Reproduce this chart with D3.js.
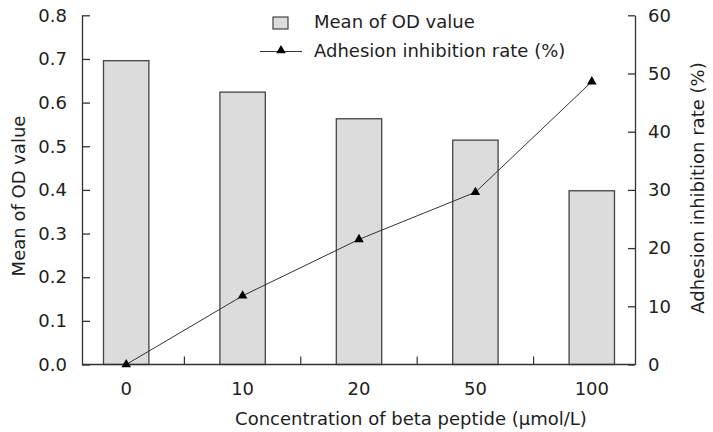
<!DOCTYPE html>
<html>
<head>
<meta charset="utf-8">
<script src="https://cdn.jsdelivr.net/npm/d3@7"></script>
<style>
    body { margin: 0; background: #fff; }
    text { font-family: "DejaVu Sans", Verdana, sans-serif; fill: #1e1e1e; }
</style>
</head>
<body>
<svg width="713" height="432"></svg>
<script>
var concentrations = ["0", "10", "20", "50", "100"];
var odMeans = [0.696, 0.624, 0.563, 0.514, 0.398];
var inhibitionRates = [0, 11.8, 21.5, 29.6, 48.6];
var odTicks = [0, 0.1, 0.2, 0.3, 0.4, 0.5, 0.6, 0.7, 0.8];
var rateTicks = [0, 10, 20, 30, 40, 50, 60];

var svg = d3.select("svg");
var fontSize = 18;

// scales
var x = d3.scaleBand().domain(concentrations).range([68, 650]);
var yL = d3.scaleLinear().domain([0, 0.8]).range([364.5, 15.3]);
var yR = d3.scaleLinear().domain([0, 60]).range([364.5, 15.3]);
var barW = x.bandwidth() * 0.39;

// bars
svg.append("g")
    .selectAll("rect")
    .data(odMeans)
    .enter()
    .append("rect")
    .attr("x", function(d, i) { return x(concentrations[i]) + x.bandwidth() / 2 - barW / 2; })
    .attr("y", function(d) { return yL(d); })
    .attr("width", barW)
    .attr("height", function(d) { return yL(0) - yL(d); })
    .attr("fill", "#dcdcdc")
    .attr("stroke", "#444")
    .attr("stroke-width", 1.3);

// left axis
var leftAxis = svg.append("g")
    .attr("transform", "translate(82,0)")
    .call(d3.axisLeft(yL).tickValues(odTicks).tickFormat(d3.format(".1f"))
        .tickSizeInner(-8).tickSizeOuter(0).tickPadding(15));

// right axis
var rightAxis = svg.append("g")
    .attr("transform", "translate(635,0)")
    .call(d3.axisRight(yR).tickValues(rateTicks).tickFormat(d3.format("d"))
        .tickSizeInner(-7).tickSizeOuter(0).tickPadding(13));

// bottom axis (labels only), domain line and boundary ticks drawn by hand
var bottomAxis = svg.append("g")
    .attr("transform", "translate(0,365)")
    .call(d3.axisBottom(x).tickSize(0).tickPadding(17));
bottomAxis.select(".domain").remove();

svg.append("line")
    .attr("x1", 82).attr("x2", 635)
    .attr("y1", yL(0)).attr("y2", yL(0))
    .attr("stroke", "#333").attr("stroke-width", 1.3);

svg.append("g")
    .selectAll("line")
    .data(concentrations.slice(1))
    .enter()
    .append("line")
    .attr("x1", function(d) { return x(d); })
    .attr("x2", function(d) { return x(d); })
    .attr("y1", yL(0))
    .attr("y2", yL(0) - 8)
    .attr("stroke", "#333")
    .attr("stroke-width", 1.2);

[leftAxis, rightAxis, bottomAxis].forEach(function(a) {
    a.selectAll("path, line").attr("stroke", "#333").attr("stroke-width", 1.3);
    a.selectAll("text")
        .attr("font-size", fontSize)
        .attr("font-family", "'DejaVu Sans', Verdana, sans-serif")
        .attr("fill", "#1e1e1e");
});

// line series
var line = d3.line()
    .x(function(d, i) { return x(concentrations[i]) + x.bandwidth() / 2; })
    .y(function(d) { return yR(d); });

svg.append("path")
    .datum(inhibitionRates)
    .attr("d", line)
    .attr("fill", "none")
    .attr("stroke", "#333")
    .attr("stroke-width", 1);

var tri = d3.symbol().type(d3.symbolTriangle).size(40);

svg.append("g")
    .selectAll("path")
    .data(inhibitionRates)
    .enter()
    .append("path")
    .attr("d", tri)
    .attr("transform", function(d, i) {
        return "translate(" + (x(concentrations[i]) + x.bandwidth() / 2) + "," + yR(d) + ")";
    })
    .attr("fill", "#000");

// axis titles
svg.append("text")
    .attr("transform", "translate(25,196) rotate(-90)")
    .attr("text-anchor", "middle")
    .attr("font-size", fontSize)
    .text("Mean of OD value");

svg.append("text")
    .attr("transform", "translate(704,188) rotate(-90)")
    .attr("text-anchor", "middle")
    .attr("font-size", fontSize)
    .text("Adhesion inhibition rate (%)");

svg.append("text")
    .attr("x", 411)
    .attr("y", 425)
    .attr("text-anchor", "middle")
    .attr("font-size", fontSize)
    .text("Concentration of beta peptide (\u03bcmol/L)");

// legend
var legend = svg.append("g");
legend.append("rect")
    .attr("x", 273).attr("y", 17)
    .attr("width", 15).attr("height", 12)
    .attr("fill", "#dcdcdc")
    .attr("stroke", "#444")
    .attr("stroke-width", 1.2);
legend.append("text")
    .attr("x", 314).attr("y", 28)
    .attr("font-size", fontSize)
    .text("Mean of OD value");

legend.append("line")
    .attr("x1", 260).attr("x2", 302)
    .attr("y1", 51.5).attr("y2", 51.5)
    .attr("stroke", "#333").attr("stroke-width", 1);
legend.append("path")
    .attr("d", tri)
    .attr("transform", "translate(281,50.5)")
    .attr("fill", "#000");
legend.append("text")
    .attr("x", 314).attr("y", 57)
    .attr("font-size", fontSize)
    .text("Adhesion inhibition rate (%)");
</script>
</body>
</html>
